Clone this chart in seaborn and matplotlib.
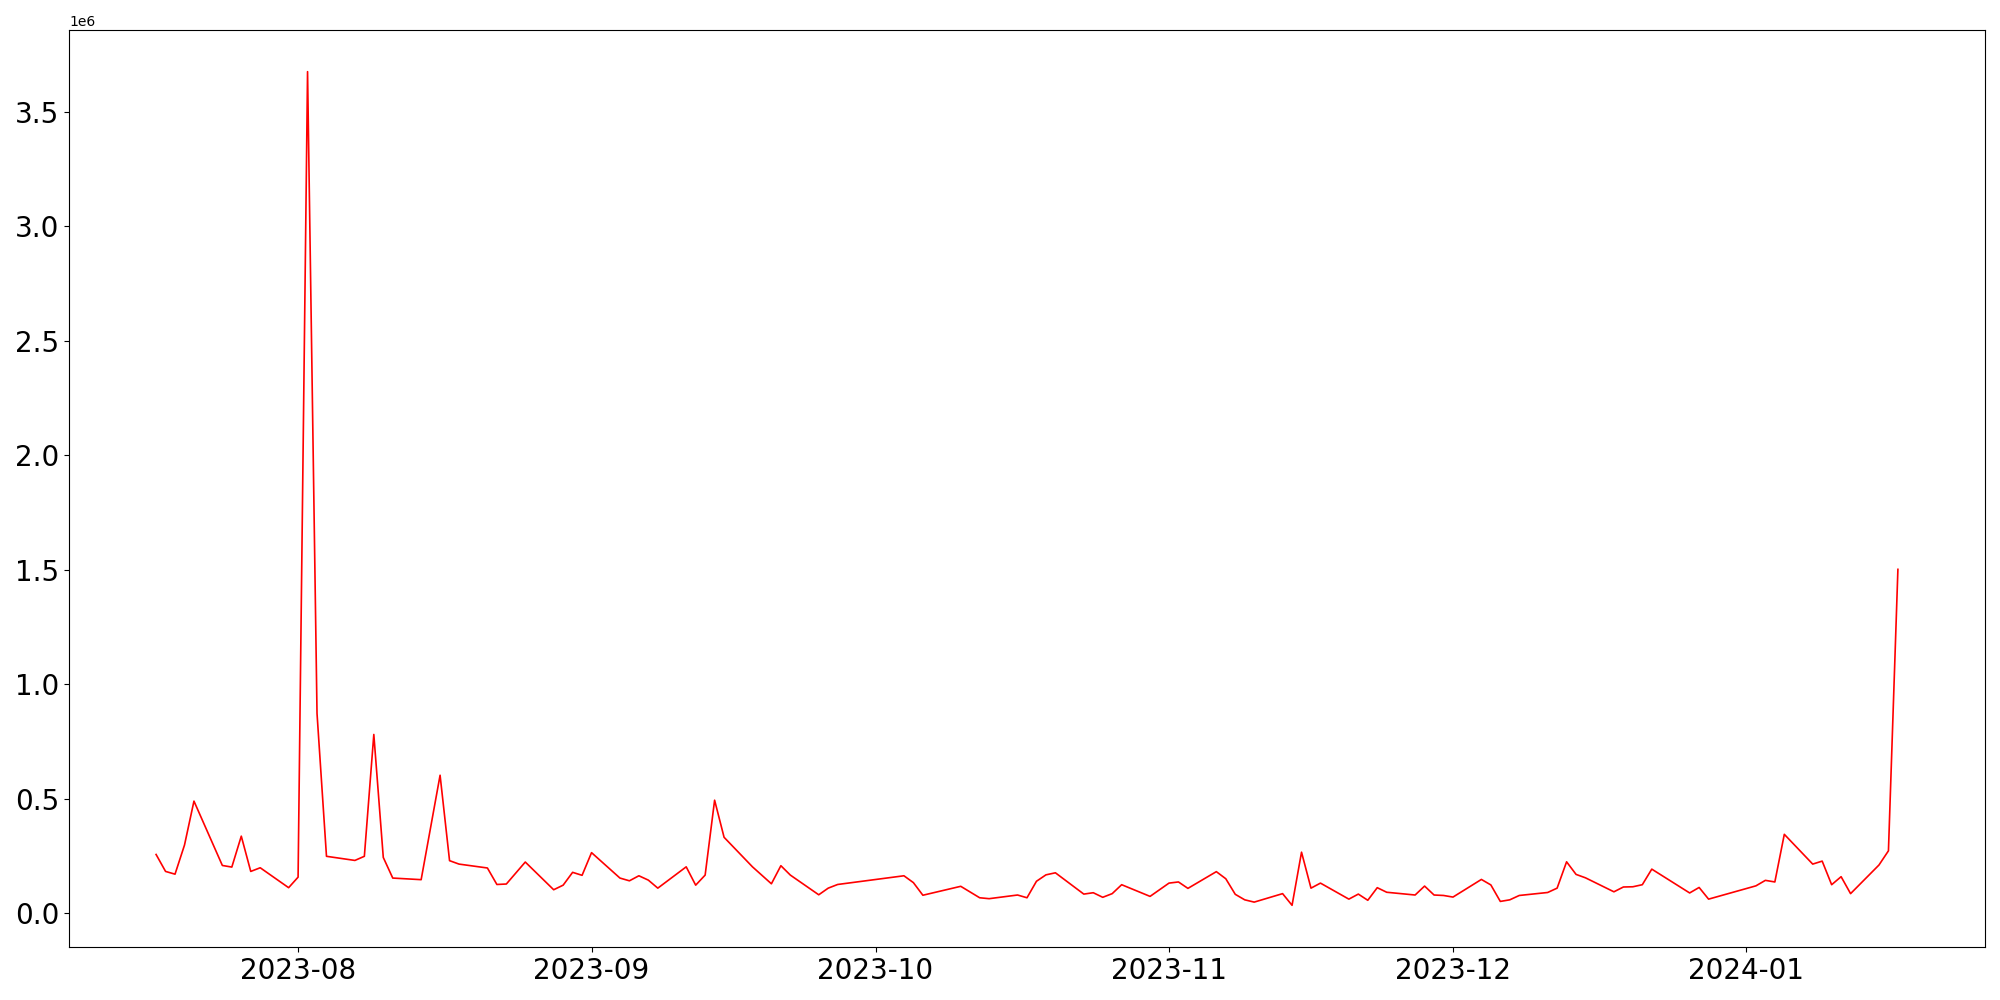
import matplotlib
matplotlib.use("Agg")
import matplotlib.pyplot as plt
import matplotlib.dates as mdates
import seaborn as sns
import pandas as pd

dates = [
    "2023-07-17", "2023-07-18", "2023-07-19", "2023-07-20", "2023-07-21",
    "2023-07-24", "2023-07-25", "2023-07-26", "2023-07-27", "2023-07-28",
    "2023-07-31", "2023-08-01", "2023-08-02", "2023-08-03", "2023-08-04",
    "2023-08-07", "2023-08-08", "2023-08-09", "2023-08-10", "2023-08-11",
    "2023-08-14", "2023-08-16", "2023-08-17", "2023-08-18",
    "2023-08-21", "2023-08-22", "2023-08-23", "2023-08-25",
    "2023-08-28", "2023-08-29", "2023-08-30", "2023-08-31", "2023-09-01",
    "2023-09-04", "2023-09-05", "2023-09-06", "2023-09-07", "2023-09-08",
    "2023-09-11", "2023-09-12", "2023-09-13", "2023-09-14", "2023-09-15",
    "2023-09-18", "2023-09-20", "2023-09-21", "2023-09-22",
    "2023-09-25", "2023-09-26", "2023-09-27",
    "2023-10-04", "2023-10-05", "2023-10-06",
    "2023-10-10", "2023-10-12", "2023-10-13",
    "2023-10-16", "2023-10-17", "2023-10-18", "2023-10-19", "2023-10-20",
    "2023-10-23", "2023-10-24", "2023-10-25", "2023-10-26", "2023-10-27",
    "2023-10-30", "2023-11-01", "2023-11-02", "2023-11-03",
    "2023-11-06", "2023-11-07", "2023-11-08", "2023-11-09", "2023-11-10",
    "2023-11-13", "2023-11-14", "2023-11-15", "2023-11-16", "2023-11-17",
    "2023-11-20", "2023-11-21", "2023-11-22", "2023-11-23", "2023-11-24",
    "2023-11-27", "2023-11-28", "2023-11-29", "2023-11-30", "2023-12-01",
    "2023-12-04", "2023-12-05", "2023-12-06", "2023-12-07", "2023-12-08",
    "2023-12-11", "2023-12-12", "2023-12-13", "2023-12-14", "2023-12-15",
    "2023-12-18", "2023-12-19", "2023-12-20", "2023-12-21", "2023-12-22",
    "2023-12-26", "2023-12-27", "2023-12-28",
    "2024-01-02", "2024-01-03", "2024-01-04", "2024-01-05",
    "2024-01-08", "2024-01-09", "2024-01-10", "2024-01-11", "2024-01-12",
    "2024-01-15", "2024-01-16", "2024-01-17",
]

values = [
    257000, 183000, 171000, 298000, 490000,
    209000, 202000, 337000, 183000, 199000,
    112000, 158000, 3675000, 873000, 249000,
    231000, 249000, 781000, 244000, 154000,
    147000, 603000, 230000, 215000,
    198000, 126000, 128000, 224000,
    103000, 123000, 179000, 166000, 265000,
    154000, 142000, 164000, 145000, 110000,
    203000, 123000, 167000, 494000, 332000,
    203000, 129000, 208000, 167000,
    81000, 110000, 126000,
    164000, 134000, 79000,
    118000, 68000, 64000,
    80000, 68000, 140000, 168000, 177000,
    84000, 90000, 70000, 86000, 125000,
    74000, 132000, 137000, 109000,
    182000, 151000, 83000, 59000, 49000,
    86000, 35000, 267000, 110000, 132000,
    62000, 84000, 57000, 112000, 92000,
    80000, 119000, 80000, 78000, 71000,
    148000, 124000, 52000, 59000, 78000,
    91000, 110000, 225000, 170000, 155000,
    94000, 115000, 116000, 125000, 193000,
    89000, 113000, 62000,
    120000, 144000, 137000, 345000,
    215000, 228000, 125000, 160000, 86000,
    211000, 273000, 1502000,
]

df = pd.DataFrame({"date": pd.to_datetime(dates), "value": values})

fig, ax = plt.subplots(figsize=(20, 10), dpi=100)
fig.subplots_adjust(left=0.0345, right=0.9925, top=0.97, bottom=0.053)

sns.lineplot(data=df, x="date", y="value", color="red", linewidth=1.2, ax=ax)

ax.xaxis.set_major_locator(mdates.MonthLocator())
ax.xaxis.set_major_formatter(mdates.DateFormatter("%Y-%m"))
ax.tick_params(axis="both", labelsize=20)
ax.set_xlabel("")
ax.set_ylabel("")

fig.savefig("out.png")
